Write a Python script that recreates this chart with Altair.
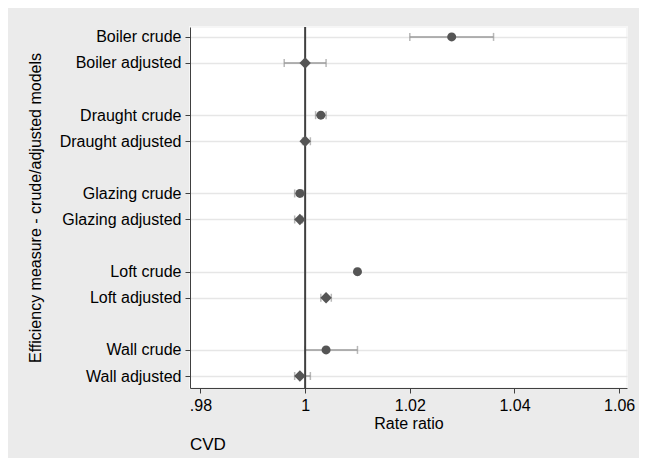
import altair as alt
import pandas as pd

labels = ["Boiler crude", "Boiler adjusted", "Draught crude", "Draught adjusted",
          "Glazing crude", "Glazing adjusted", "Loft crude", "Loft adjusted",
          "Wall crude", "Wall adjusted"]
rows = [0, 1, 3, 4, 6, 7, 9, 10, 12, 13]
model = ["crude", "adjusted"] * 5
est = [1.028, 1.000, 1.003, 1.000, 0.999, 0.999, 1.010, 1.004, 1.004, 0.999]
lo = [1.020, 0.996, 1.002, 0.9995, 0.998, 0.998, 1.0097, 1.003, 1.000, 0.998]
hi = [1.036, 1.004, 1.004, 1.001, 0.9995, 0.9995, 1.0103, 1.005, 1.010, 1.001]
x_ticks = [0.98, 1.0, 1.02, 1.04, 1.06]

df = pd.DataFrame({"label": labels, "row": rows, "model": model,
                   "est": est, "lo": lo, "hi": hi})

label_expr = "{" + ",".join(f"'{r}':'{l}'" for r, l in zip(rows, labels)) + "}"

FONT = "Liberation Sans"
xscale = alt.Scale(domain=[0.978, 1.0615], nice=False, zero=False)
yscale = alt.Scale(domain=[-0.38, 13.46], reverse=True, nice=False, zero=False)

x_axis = alt.Axis(values=x_ticks, labelExpr="datum.value == 0.98 ? '.98' : format(datum.value, '.2~f')",
                  title="Rate ratio", grid=False, tickSize=5, labelPadding=4,
                  titlePadding=2, domainColor="#404040", tickColor="#404040",
                  labelFontSize=16, titleFontSize=16, labelColor="#000", titleColor="#000",
                  titleFontWeight="normal", labelFont=FONT, titleFont=FONT, labelFlush=False)
y_axis = alt.Axis(values=rows, labelExpr=f"{label_expr}[datum.value]",
                  title="Efficiency measure - crude/adjusted models",
                  grid=True, gridColor="#e6e6e6", gridWidth=1.5,
                  tickSize=5, labelPadding=4, titlePadding=16,
                  domainColor="#404040", tickColor="#404040",
                  labelFontSize=16, titleFontSize=16, labelColor="#000", titleColor="#000",
                  titleFontWeight="normal", labelFont=FONT, titleFont=FONT)

base = alt.Chart(df)

bars = base.mark_rule(color="#9a9a9a", strokeWidth=1.5).encode(
    x=alt.X("lo:Q", scale=xscale, axis=x_axis),
    x2="hi:Q",
    y=alt.Y("row:Q", scale=yscale, axis=y_axis),
)
cap_lo = base.mark_tick(color="#9a9a9a", orient="vertical", size=8, thickness=1.5).encode(
    x=alt.X("lo:Q", scale=xscale), y=alt.Y("row:Q", scale=yscale))
cap_hi = base.mark_tick(color="#9a9a9a", orient="vertical", size=8, thickness=1.5).encode(
    x=alt.X("hi:Q", scale=xscale), y=alt.Y("row:Q", scale=yscale))

refline = alt.Chart(pd.DataFrame({"v": [1.0]})).mark_rule(color="#404040", strokeWidth=2).encode(
    x=alt.X("v:Q", scale=xscale))

crude_pts = base.transform_filter("datum.model == 'crude'").mark_point(
    shape="circle", filled=True, size=81, color="#555555", opacity=1).encode(
    x=alt.X("est:Q", scale=xscale), y=alt.Y("row:Q", scale=yscale))
adj_pts = base.transform_filter("datum.model == 'adjusted'").mark_point(
    shape="diamond", filled=True, size=130, color="#555555", opacity=1).encode(
    x=alt.X("est:Q", scale=xscale), y=alt.Y("row:Q", scale=yscale))

chart = alt.layer(bars, cap_lo, cap_hi, refline, crude_pts, adj_pts).properties(
    width=437, height=361,
    autosize=alt.AutoSizeParams(type="none"),
    padding={"left": 182, "top": 19, "right": 12, "bottom": 70},
    background="#ebebeb",
    title=alt.TitleParams("CVD", orient="bottom", anchor="start", fontSize=17,
                          fontWeight="normal", font=FONT, color="#000", offset=6, frame="group"),
).configure_view(fill="white", stroke="#f6f6f6", strokeWidth=2)

chart.save("out.html", embed_options={"renderer": "svg", "actions": False})
